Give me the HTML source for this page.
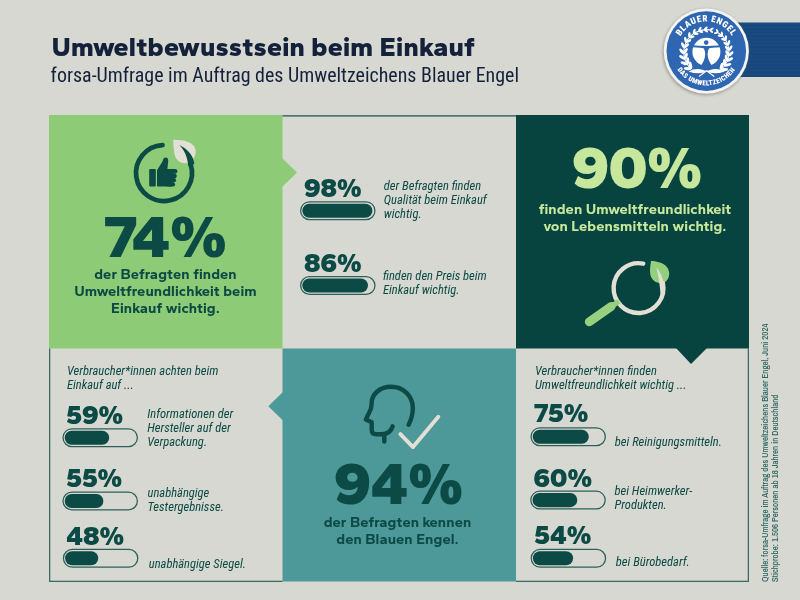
<!DOCTYPE html>
<html><head><meta charset="utf-8"><title>Umweltbewusstsein beim Einkauf</title>
<style>html,body{margin:0;padding:0;background:#d7d8d1;}body{width:800px;height:600px;overflow:hidden;position:relative}svg{position:absolute;left:0;top:0;will-change:transform}</style>
</head><body>
<svg width="800" height="600" viewBox="0 0 800 600">
<rect x="49" y="115" width="233.5" height="233.5" fill="#8ecb76"></rect>
<rect x="516" y="115" width="233" height="233.5" fill="#07443f"></rect>
<rect x="282.5" y="348.5" width="233.5" height="233" fill="#4d9899"></rect>
<polygon points="282,158 297,172.5 282,187" fill="#8ecb76"></polygon>
<polygon points="676,348 691,364 707,348" fill="#07443f"></polygon>
<polygon points="283,392 268.3,406.2 283,420.5" fill="#4d9899"></polygon>
<rect x="282.5" y="115" width="233.5" height="1.7" fill="#4f756f"></rect>
<rect x="49" y="348.5" width="1.3" height="233.5" fill="#3d6b66"></rect>
<rect x="49" y="580.7" width="233.5" height="1.3" fill="#3d6b66"></rect>
<rect x="516" y="580.7" width="233" height="1.3" fill="#3d6b66"></rect>
<rect x="747.7" y="348.5" width="1.3" height="233.5" fill="#3d6b66"></rect>
<text x="51.4" y="56.4" font-family="'Gantari','Kumbh Sans','Liberation Sans',sans-serif" font-weight="800" font-size="26.9" letter-spacing="0.2" fill="#14213a" textLength="423.53" lengthAdjust="spacingAndGlyphs">Umweltbewusstsein beim Einkauf</text>
<text x="50.6" y="81.6" font-family="'Roboto Condensed','Liberation Sans',sans-serif" font-size="19.95" fill="#14213a" textLength="468.41" lengthAdjust="spacingAndGlyphs">forsa-Umfrage im Auftrag des Umweltzeichens Blauer Engel</text>
<text x="165.7" y="257.4" font-family="'Gantari','Montserrat','Liberation Sans',sans-serif" font-weight="900" font-size="60.2" fill="#0c4a45" text-anchor="middle" transform="translate(165.7,0) scale(1.028,1) translate(-165.7,0)" textLength="118.33" lengthAdjust="spacingAndGlyphs">74%</text>
<text font-family="'Gantari','Kumbh Sans','Liberation Sans',sans-serif" font-weight="750" font-size="14.6" letter-spacing="0.1" fill="#0c4a45" text-anchor="middle"><tspan x="165.5" y="278.80" textLength="142.53" lengthAdjust="spacingAndGlyphs">der Befragten finden</tspan><tspan x="165.5" y="295.70" textLength="182.48" lengthAdjust="spacingAndGlyphs">Umweltfreundlichkeit beim</tspan><tspan x="165.5" y="312.60" textLength="108.78" lengthAdjust="spacingAndGlyphs">Einkauf wichtig.</tspan></text>
<path d="M173.2,139.7 C180,139.8 190,140.5 194,146 C197.6,151.5 195.6,159.6 188,162.6 C181.5,165 176.2,160.5 174.8,155.3 C173.6,150.5 173.4,145 173.2,139.7 Z" fill="#e2dfd5"></path>
<path d="M 162.53 145.04 A 28 28 0 1 0 190.63 164.35" fill="none" stroke="#0c4a45" stroke-width="4.7" stroke-linecap="round"></path>
<path d="M194.4,164 C193.5,156 188,149 179.3,144.9 C184.5,150 187.5,157 188.3,166 Z" fill="#0c4a45"></path>
<rect x="149.2" y="169.1" width="6.6" height="17.5" rx="1.1" fill="#0c4a45"></rect>
<path d="M157,170.2 L162.6,161.2 Q163.2,157.4 165.6,157.4 Q168.5,157.6 168.2,161.2 L167.4,169 L172,169 L172,186.6 L158.2,186.6 Q157,186.6 157,185.4 Z" fill="#0c4a45"></path>
<rect x="166" y="168.9" width="11.40" height="4.80" rx="2.40" fill="#0c4a45"></rect>
<rect x="166" y="173.5" width="10.80" height="4.80" rx="2.40" fill="#0c4a45"></rect>
<rect x="166" y="178.1" width="10.10" height="4.30" rx="2.15" fill="#0c4a45"></rect>
<rect x="166" y="182.2" width="9.10" height="4.40" rx="2.20" fill="#0c4a45"></rect>
<text x="304" y="197" font-family="'Gantari','Montserrat','Liberation Sans',sans-serif" font-weight="900" font-size="27" fill="#0c4a45" text-anchor="start" textLength="57.63" lengthAdjust="spacingAndGlyphs">98%</text>
<rect x="300.62" y="201.82" width="74.35" height="17.75" rx="8.88" fill="none" stroke="#2c5f5a" stroke-width="1.25"></rect><rect x="302.30" y="203.65" width="70.10" height="14.10" rx="7.05" fill="#0c4a45"></rect>
<text font-family="'Roboto Condensed','Liberation Sans',sans-serif" font-style="italic" font-weight="450" font-size="12.55" fill="#0c4a45"><tspan x="383.8" y="189.90" textLength="97.36" lengthAdjust="spacingAndGlyphs">der Befragten finden</tspan><tspan x="383.8" y="203.90" textLength="102.83" lengthAdjust="spacingAndGlyphs">Qualität beim Einkauf</tspan><tspan x="383.8" y="217.90" textLength="37.81" lengthAdjust="spacingAndGlyphs">wichtig.</tspan></text>
<text x="304" y="271.75" font-family="'Gantari','Montserrat','Liberation Sans',sans-serif" font-weight="900" font-size="27" fill="#0c4a45" text-anchor="start" textLength="57.63" lengthAdjust="spacingAndGlyphs">86%</text>
<rect x="300.62" y="276.62" width="74.35" height="17.75" rx="8.88" fill="none" stroke="#2c5f5a" stroke-width="1.25"></rect><rect x="302.30" y="278.45" width="65.70" height="14.10" rx="7.05" fill="#0c4a45"></rect>
<text font-family="'Roboto Condensed','Liberation Sans',sans-serif" font-style="italic" font-weight="450" font-size="12.55" fill="#0c4a45"><tspan x="383" y="279.90" textLength="103.77" lengthAdjust="spacingAndGlyphs">finden den Preis beim</tspan><tspan x="383" y="293.75" textLength="76.45" lengthAdjust="spacingAndGlyphs">Einkauf wichtig.</tspan></text>
<text x="637" y="188" font-family="'Gantari','Montserrat','Liberation Sans',sans-serif" font-weight="900" font-size="60.2" fill="#c6e79c" text-anchor="middle" textLength="130.25" lengthAdjust="spacingAndGlyphs">90%</text>
<text font-family="'Gantari','Kumbh Sans','Liberation Sans',sans-serif" font-weight="750" font-size="14.6" letter-spacing="0.1" fill="#c6e79c" text-anchor="middle"><tspan x="635" y="213.75" textLength="192.59" lengthAdjust="spacingAndGlyphs">finden Umweltfreundlichkeit</tspan><tspan x="635" y="230.60" textLength="183.09" lengthAdjust="spacingAndGlyphs">von Lebensmitteln wichtig.</tspan></text>
<path d="M651,261 C656,261 662,262.5 665.5,265.5 C669.5,269 670.5,275.5 667.5,279.5 C665.5,282.2 663,283.6 661.3,283.4 C656,283 651.5,280 650.4,275 C649.6,270.5 650.3,265.5 651,261 Z" fill="#93cf7d"></path>
<path d="M 643.25 263.66 A 24.9 24.9 0 1 0 662.86 282.92" fill="none" stroke="#e2dfd5" stroke-width="4.4" stroke-linecap="round"></path>
<path d="M665,294 C664.5,282 661.5,273 656.3,267.3 C658.2,274 659.6,283 660.6,294.5 Z" fill="#e2dfd5"></path>
<line x1="589.2" y1="321.8" x2="611.3" y2="306.3" stroke="#97d07f" stroke-width="8.8" stroke-linecap="round"></line>
<line x1="609" y1="308" x2="619" y2="301.3" stroke="#97d07f" stroke-width="5.2"></line>
<path d="M408.6,424.7 C411.4,419.5 412.9,413.5 412.8,407.6 C412.5,395.5 403,386.8 391,386.8 C379.5,386.8 371.5,394.5 371.7,403.3 C371.8,407.5 370.6,410.5 368.6,413.8 L365.9,419.4 L371.7,422.2 L371.7,429.8 Q371.7,434.3 376.5,434.3 L382,434.3 Q390.5,433.6 392.6,426.3" fill="none" stroke="#0c4a45" stroke-width="4.4" stroke-linecap="round" stroke-linejoin="round"></path>
<path d="M384.3,434.8 L384.3,441.6" stroke="#0c4a45" stroke-width="4.4" stroke-linecap="round"></path>
<path d="M400.4,434.1 L413,447.1 L438.3,416.8" fill="none" stroke="#e2dfd5" stroke-width="3.9" stroke-linecap="round" stroke-linejoin="round"></path>
<text font-family="'Roboto Condensed','Liberation Sans',sans-serif" font-style="italic" font-weight="450" font-size="12.55" fill="#0c4a45"><tspan x="67" y="375.00" textLength="151.39" lengthAdjust="spacingAndGlyphs">Verbraucher*innen achten beim</tspan><tspan x="67" y="388.75" textLength="66.70" lengthAdjust="spacingAndGlyphs">Einkauf auf ...</tspan></text>
<text x="66.2" y="423.75" font-family="'Gantari','Montserrat','Liberation Sans',sans-serif" font-weight="900" font-size="27" fill="#0c4a45" text-anchor="start" textLength="56.81" lengthAdjust="spacingAndGlyphs">59%</text>
<rect x="63.02" y="428.82" width="74.35" height="17.75" rx="8.88" fill="none" stroke="#2c5f5a" stroke-width="1.25"></rect><rect x="64.70" y="430.65" width="44.50" height="14.10" rx="7.05" fill="#0c4a45"></rect>
<text font-family="'Roboto Condensed','Liberation Sans',sans-serif" font-style="italic" font-weight="450" font-size="12.55" fill="#0c4a45"><tspan x="147.2" y="417.75" textLength="85.91" lengthAdjust="spacingAndGlyphs">Informationen der</tspan><tspan x="147.2" y="431.63" textLength="83.55" lengthAdjust="spacingAndGlyphs">Hersteller auf der</tspan><tspan x="147.2" y="445.51" textLength="59.91" lengthAdjust="spacingAndGlyphs">Verpackung.</tspan></text>
<text x="66.2" y="487" font-family="'Gantari','Montserrat','Liberation Sans',sans-serif" font-weight="900" font-size="27" fill="#0c4a45" text-anchor="start" textLength="56.00" lengthAdjust="spacingAndGlyphs">55%</text>
<rect x="63.02" y="492.12" width="74.35" height="17.75" rx="8.88" fill="none" stroke="#2c5f5a" stroke-width="1.25"></rect><rect x="64.70" y="493.95" width="38.70" height="14.10" rx="7.05" fill="#0c4a45"></rect>
<text font-family="'Roboto Condensed','Liberation Sans',sans-serif" font-style="italic" font-weight="450" font-size="12.55" fill="#0c4a45"><tspan x="147.6" y="496.60" textLength="61.72" lengthAdjust="spacingAndGlyphs">unabhängige</tspan><tspan x="147.6" y="510.60" textLength="76.30" lengthAdjust="spacingAndGlyphs">Testergebnisse.</tspan></text>
<text x="66.2" y="545" font-family="'Gantari','Montserrat','Liberation Sans',sans-serif" font-weight="900" font-size="27" fill="#0c4a45" text-anchor="start" textLength="57.89" lengthAdjust="spacingAndGlyphs">48%</text>
<rect x="63.42" y="549.42" width="74.35" height="17.75" rx="8.88" fill="none" stroke="#2c5f5a" stroke-width="1.25"></rect><rect x="65.10" y="551.25" width="33.10" height="14.10" rx="7.05" fill="#0c4a45"></rect>
<text font-family="'Roboto Condensed','Liberation Sans',sans-serif" font-style="italic" font-weight="450" font-size="12.55" fill="#0c4a45"><tspan x="148.8" y="567.50" textLength="97.09" lengthAdjust="spacingAndGlyphs">unabhängige Siegel.</tspan></text>
<text x="398.5" y="504" font-family="'Gantari','Montserrat','Liberation Sans',sans-serif" font-weight="900" font-size="60.2" fill="#0c4a45" text-anchor="middle" textLength="129.05" lengthAdjust="spacingAndGlyphs">94%</text>
<text font-family="'Gantari','Kumbh Sans','Liberation Sans',sans-serif" font-weight="750" font-size="14.6" letter-spacing="0.1" fill="#0c4a45" text-anchor="middle"><tspan x="397.5" y="527.40" textLength="147.73" lengthAdjust="spacingAndGlyphs">der Befragten kennen</tspan><tspan x="397.5" y="544.10" textLength="122.47" lengthAdjust="spacingAndGlyphs">den Blauen Engel.</tspan></text>
<text font-family="'Roboto Condensed','Liberation Sans',sans-serif" font-style="italic" font-weight="450" font-size="12.55" fill="#0c4a45"><tspan x="535" y="374.80" textLength="121.84" lengthAdjust="spacingAndGlyphs">Verbraucher*innen finden</tspan><tspan x="535" y="388.50" textLength="151.47" lengthAdjust="spacingAndGlyphs">Umweltfreundlichkeit wichtig ...</tspan></text>
<text x="534.2" y="422.4" font-family="'Gantari','Montserrat','Liberation Sans',sans-serif" font-weight="900" font-size="27" fill="#0c4a45" text-anchor="start" textLength="54.17" lengthAdjust="spacingAndGlyphs">75%</text>
<rect x="531.02" y="427.82" width="74.35" height="17.75" rx="8.88" fill="none" stroke="#2c5f5a" stroke-width="1.25"></rect><rect x="532.70" y="429.65" width="56.10" height="14.10" rx="7.05" fill="#0c4a45"></rect>
<text font-family="'Roboto Condensed','Liberation Sans',sans-serif" font-style="italic" font-weight="450" font-size="12.55" fill="#0c4a45"><tspan x="614.8" y="446.00" textLength="107.11" lengthAdjust="spacingAndGlyphs">bei Reinigungsmitteln.</tspan></text>
<text x="533.6" y="486.6" font-family="'Gantari','Montserrat','Liberation Sans',sans-serif" font-weight="900" font-size="27" fill="#0c4a45" text-anchor="start" textLength="58.44" lengthAdjust="spacingAndGlyphs">60%</text>
<rect x="530.83" y="491.23" width="74.35" height="17.75" rx="8.88" fill="none" stroke="#2c5f5a" stroke-width="1.25"></rect><rect x="532.50" y="493.05" width="44.80" height="14.10" rx="7.05" fill="#0c4a45"></rect>
<text font-family="'Roboto Condensed','Liberation Sans',sans-serif" font-style="italic" font-weight="450" font-size="12.55" fill="#0c4a45"><tspan x="614.5" y="495.00" textLength="77.69" lengthAdjust="spacingAndGlyphs">bei Heimwerker-</tspan><tspan x="614.5" y="508.75" textLength="52.27" lengthAdjust="spacingAndGlyphs">Produkten.</tspan></text>
<text x="534.2" y="543.6" font-family="'Gantari','Montserrat','Liberation Sans',sans-serif" font-weight="900" font-size="27" fill="#0c4a45" text-anchor="start" textLength="57.08" lengthAdjust="spacingAndGlyphs">54%</text>
<rect x="531.23" y="549.42" width="74.35" height="17.75" rx="8.88" fill="none" stroke="#2c5f5a" stroke-width="1.25"></rect><rect x="532.90" y="551.25" width="40.20" height="14.10" rx="7.05" fill="#0c4a45"></rect>
<text font-family="'Roboto Condensed','Liberation Sans',sans-serif" font-style="italic" font-weight="450" font-size="12.55" fill="#0c4a45"><tspan x="615.8" y="566.25" textLength="74.02" lengthAdjust="spacingAndGlyphs">bei Bürobedarf.</tspan></text>
<text transform="translate(768,582) rotate(-90)" font-family="'Archivo Narrow','Liberation Sans',sans-serif" font-weight="500" font-size="8.8" fill="#2e6660"><tspan x="0" y="0" textLength="258.42" lengthAdjust="spacingAndGlyphs">Quelle: forsa-Umfrage im Auftrag des Umweltzeichens Blauer Engel, Juni 2024</tspan><tspan x="0" y="9.6" textLength="187.48" lengthAdjust="spacingAndGlyphs">Stichprobe: 1.506 Personen ab 18 Jahren in Deutschland</tspan></text>
<defs><pattern id="rib" width="8" height="3.6" patternUnits="userSpaceOnUse" y="22.5"><rect width="8" height="3.6" fill="#1a4a80"></rect><rect y="2.4" width="8" height="1.2" fill="#123a6a" opacity="0.3"></rect></pattern></defs>
<rect x="735" y="22.5" width="65" height="54.5" fill="url(#rib)"></rect>
<defs><filter id="sh" x="-30%" y="-30%" width="160%" height="160%"><feGaussianBlur stdDeviation="1.6"></feGaussianBlur></filter></defs>
<circle cx="705.6999999999999" cy="52.300000000000004" r="43" fill="#55574f" opacity="0.45" filter="url(#sh)"></circle>
<circle cx="706.3" cy="51.1" r="42.6" fill="#f4f4f2"></circle>
<circle cx="706.3" cy="51.1" r="39.8" fill="#2f66b2"></circle>
<circle cx="706.4" cy="51.8" r="14" fill="#fff"></circle>
<path d="M692.4,45.3 Q706.4,46.9 720.4,45.3 L720.6,47.2 Q710.7,47.4 709,48.6 Q707.5,51 707.6,54.5 Q708,61 712.7,66.5 L700.1,66.5 Q704.8,61 705.2,54.5 Q705.3,51 703.8,48.6 Q702.1,47.4 692.2,47.2 Z" fill="#2f66b2"></path>
<circle cx="706.2" cy="42.6" r="2.3" fill="#2f66b2"></circle>
<path d="M691.28,69.00 A22.6,22.6 0 0 1 709.94,29.88" fill="none" stroke="#fff" stroke-width="1.1"></path><ellipse cx="687.50" cy="68.60" rx="3.80" ry="1.60" transform="rotate(-174.0 687.50 68.60)" fill="#fff"></ellipse><ellipse cx="690.49" cy="65.28" rx="3.80" ry="1.60" transform="rotate(-102.0 690.49 65.28)" fill="#fff"></ellipse><ellipse cx="684.12" cy="63.32" rx="3.63" ry="1.55" transform="rotate(-159.3 684.12 63.32)" fill="#fff"></ellipse><ellipse cx="687.68" cy="60.98" rx="3.63" ry="1.55" transform="rotate(-87.3 687.68 60.98)" fill="#fff"></ellipse><ellipse cx="682.16" cy="57.40" rx="3.46" ry="1.49" transform="rotate(-144.6 682.16 57.40)" fill="#fff"></ellipse><ellipse cx="686.02" cy="56.11" rx="3.46" ry="1.49" transform="rotate(-72.6 686.02 56.11)" fill="#fff"></ellipse><ellipse cx="681.74" cy="51.21" rx="3.29" ry="1.44" transform="rotate(-129.9 681.74 51.21)" fill="#fff"></ellipse><ellipse cx="685.60" cy="50.95" rx="3.29" ry="1.44" transform="rotate(-57.9 685.60 50.95)" fill="#fff"></ellipse><ellipse cx="682.87" cy="45.14" rx="3.12" ry="1.38" transform="rotate(-115.2 682.87 45.14)" fill="#fff"></ellipse><ellipse cx="686.47" cy="45.83" rx="3.12" ry="1.38" transform="rotate(-43.2 686.47 45.83)" fill="#fff"></ellipse><ellipse cx="685.46" cy="39.57" rx="2.95" ry="1.33" transform="rotate(-100.5 685.46 39.57)" fill="#fff"></ellipse><ellipse cx="688.59" cy="41.06" rx="2.95" ry="1.33" transform="rotate(-28.5 688.59 41.06)" fill="#fff"></ellipse><ellipse cx="689.34" cy="34.84" rx="2.78" ry="1.27" transform="rotate(-85.8 689.34 34.84)" fill="#fff"></ellipse><ellipse cx="691.84" cy="36.95" rx="2.78" ry="1.27" transform="rotate(-13.8 691.84 36.95)" fill="#fff"></ellipse><ellipse cx="694.25" cy="31.24" rx="2.61" ry="1.22" transform="rotate(-71.1 694.25 31.24)" fill="#fff"></ellipse><ellipse cx="696.01" cy="33.75" rx="2.61" ry="1.22" transform="rotate(0.9 696.01 33.75)" fill="#fff"></ellipse><ellipse cx="699.87" cy="28.99" rx="2.44" ry="1.16" transform="rotate(-56.4 699.87 28.99)" fill="#fff"></ellipse><ellipse cx="700.87" cy="31.67" rx="2.44" ry="1.16" transform="rotate(15.6 700.87 31.67)" fill="#fff"></ellipse><ellipse cx="705.85" cy="28.20" rx="2.27" ry="1.10" transform="rotate(-41.7 705.85 28.20)" fill="#fff"></ellipse><ellipse cx="706.12" cy="30.86" rx="2.27" ry="1.10" transform="rotate(30.3 706.12 30.86)" fill="#fff"></ellipse><ellipse cx="711.81" cy="28.92" rx="2.10" ry="1.05" transform="rotate(-27.0 711.81 28.92)" fill="#fff"></ellipse><ellipse cx="711.42" cy="31.36" rx="2.10" ry="1.05" transform="rotate(45.0 711.42 31.36)" fill="#fff"></ellipse><path d="M720.62,69.76 A22.6,22.6 0 0 0 718.04,32.83" fill="none" stroke="#fff" stroke-width="1.1"></path><ellipse cx="721.61" cy="66.09" rx="3.80" ry="1.60" transform="rotate(-75.0 721.61 66.09)" fill="#fff"></ellipse><ellipse cx="724.42" cy="69.56" rx="3.80" ry="1.60" transform="rotate(-3.0 724.42 69.56)" fill="#fff"></ellipse><ellipse cx="724.47" cy="62.29" rx="3.59" ry="1.53" transform="rotate(-88.8 724.47 62.29)" fill="#fff"></ellipse><ellipse cx="727.82" cy="64.85" rx="3.59" ry="1.53" transform="rotate(-16.8 727.82 64.85)" fill="#fff"></ellipse><ellipse cx="726.40" cy="57.92" rx="3.38" ry="1.46" transform="rotate(-102.5 726.40 57.92)" fill="#fff"></ellipse><ellipse cx="730.03" cy="59.50" rx="3.38" ry="1.46" transform="rotate(-30.5 730.03 59.50)" fill="#fff"></ellipse><ellipse cx="727.27" cy="53.19" rx="3.16" ry="1.39" transform="rotate(-116.3 727.27 53.19)" fill="#fff"></ellipse><ellipse cx="730.94" cy="53.82" rx="3.16" ry="1.39" transform="rotate(-44.3 730.94 53.82)" fill="#fff"></ellipse><ellipse cx="727.05" cy="48.36" rx="2.95" ry="1.33" transform="rotate(-130.0 727.05 48.36)" fill="#fff"></ellipse><ellipse cx="730.51" cy="48.12" rx="2.95" ry="1.33" transform="rotate(-58.0 730.51 48.12)" fill="#fff"></ellipse><ellipse cx="725.72" cy="43.69" rx="2.74" ry="1.26" transform="rotate(-143.8 725.72 43.69)" fill="#fff"></ellipse><ellipse cx="728.78" cy="42.71" rx="2.74" ry="1.26" transform="rotate(-71.8 728.78 42.71)" fill="#fff"></ellipse><ellipse cx="723.34" cy="39.43" rx="2.52" ry="1.19" transform="rotate(-157.5 723.34 39.43)" fill="#fff"></ellipse><ellipse cx="725.87" cy="37.87" rx="2.52" ry="1.19" transform="rotate(-85.5 725.87 37.87)" fill="#fff"></ellipse><ellipse cx="720.03" cy="35.80" rx="2.31" ry="1.12" transform="rotate(-171.2 720.03 35.80)" fill="#fff"></ellipse><ellipse cx="721.94" cy="33.87" rx="2.31" ry="1.12" transform="rotate(-99.2 721.94 33.87)" fill="#fff"></ellipse><ellipse cx="715.95" cy="33.01" rx="2.10" ry="1.05" transform="rotate(-185.0 715.95 33.01)" fill="#fff"></ellipse><ellipse cx="717.22" cy="30.89" rx="2.10" ry="1.05" transform="rotate(-113.0 717.22 30.89)" fill="#fff"></ellipse>
<path d="M688.6,71.4 Q695.6,67.6 703.2,70 L707,71.2 Q699.2,75.3 688.6,71.4 Z" fill="#fff"></path>
<path d="M724.6,71.4 Q717.6,67.6 710,70 L706.2,71.2 Q714,75.3 724.6,71.4 Z" fill="#fff"></path>
<path d="M699.3,76.2 L706.6,70.8 L713.9,76.2" fill="none" stroke="#fff" stroke-width="1.2" stroke-linecap="round"></path>
<defs><path id="arcT" d="M 676.5,51.1 A 29.8 29.8 0 0 1 736.0999999999999,51.1"></path><path id="arcB" d="M 672.0,51.1 A 34.3 34.3 0 0 0 740.5999999999999,51.1"></path></defs>
<text font-family="'Roboto Condensed','Liberation Sans',sans-serif" font-weight="900" font-size="9" fill="#fff" letter-spacing="0.6"><textPath href="#arcT" startOffset="50%" text-anchor="middle">BLAUER ENGEL</textPath></text>
<text font-family="'Roboto Condensed','Liberation Sans',sans-serif" font-weight="900" font-size="6.9" fill="#fff" letter-spacing="0.4"><textPath href="#arcB" startOffset="50%" text-anchor="middle">DAS UMWELTZEICHEN</textPath></text>
</svg>
</body></html>
